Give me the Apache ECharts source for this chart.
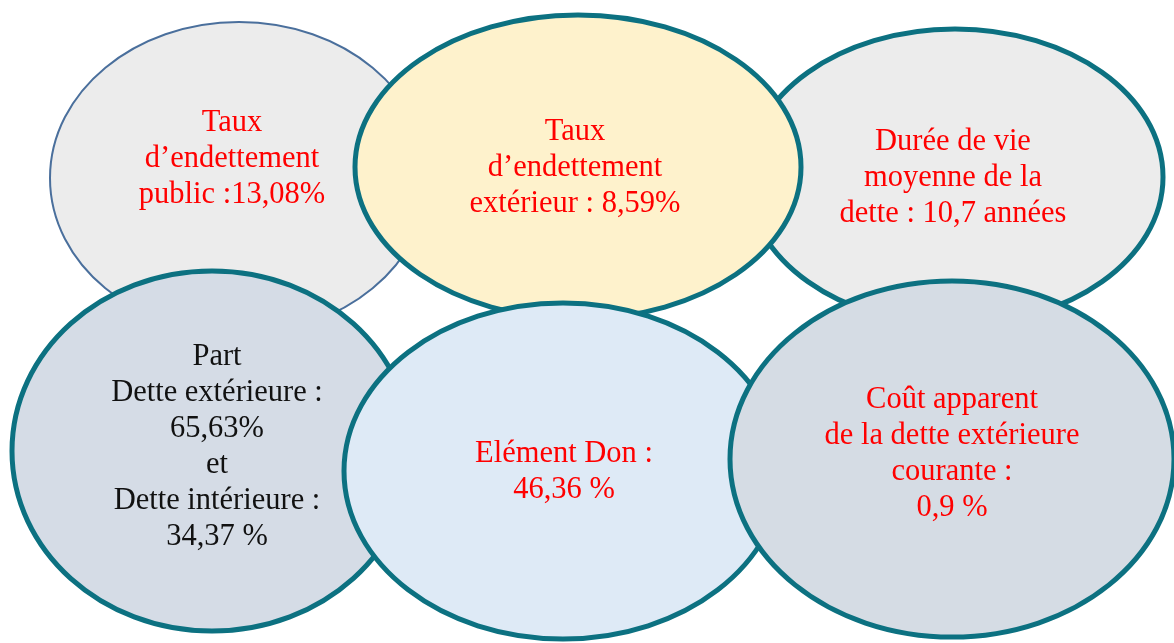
<!DOCTYPE html>
<html>
<head>
<meta charset="utf-8">
<script src="https://cdn.jsdelivr.net/npm/echarts@6/dist/echarts.min.js"></script>
<style>
html,body{margin:0;padding:0;background:#fff;}
#chart{width:1174px;height:643px;}
</style>
</head>
<body>
<div id="chart"></div>
<script>
// Labels of the six bubbles (drawing order: back to front)
const labels = [
  "Taux\nd’endettement\npublic :13,08%",
  "Durée de vie\nmoyenne de la\ndette : 10,7 années",
  "Taux\nd’endettement\nextérieur : 8,59%",
  "Part\nDette extérieure :\n65,63%\net\nDette intérieure :\n34,37 %",
  "Elément Don :\n46,36 %",
  "Coût apparent\nde la dette extérieure\ncourante :\n0,9 %"
];
// Bubble centres and radii, in axis units
const centerX = [239, 955, 578, 212, 563, 952];
const centerY = [178, 177, 167, 451, 471, 459];
const radiusX = [189, 208, 223, 200, 219, 222];
const radiusY = [156, 148, 152, 180, 168, 178];
// Text block centres
const textX = [232, 953, 575, 217, 564, 952];
const textY = [159, 178, 168, 447, 472, 454];

const fills = ['#ececec', '#ececec', '#fef2cc', '#d5dce6', '#deeaf6', '#d5dce4'];
const strokes = ['#4a6f9c', '#0c7181', '#0c7181', '#0c7181', '#0c7181', '#0c7181'];
const strokeW = [2, 5, 5, 5, 5, 5];
const textColors = ['#ff0000', '#ff0000', '#ff0000', '#111111', '#ff0000', '#ff0000'];

const data = labels.map((l, i) => [centerX[i], centerY[i], radiusX[i], radiusY[i], textX[i], textY[i]]);

const chart = echarts.init(document.getElementById('chart'));
chart.setOption({
  animation: false,
  grid: {left: 0, right: 0, top: 0, bottom: 0},
  xAxis: {type: 'value', min: 0, max: 1174, show: false},
  yAxis: {type: 'value', min: 0, max: 643, inverse: true, show: false},
  series: [{
    type: 'custom',
    clip: false,
    data: data,
    renderItem: function (params, api) {
      const i = params.dataIndex;
      const c = api.coord([api.value(0), api.value(1)]);
      const s = api.size([api.value(2), api.value(3)]);
      const t = api.coord([api.value(4), api.value(5)]);
      return {
        type: 'group',
        z2: i * 10,
        children: [
          {
            type: 'ellipse',
            z2: i * 10,
            shape: {cx: c[0], cy: c[1], rx: s[0], ry: s[1]},
            style: {fill: fills[i], stroke: strokes[i], lineWidth: strokeW[i]}
          },
          {
            type: 'text',
            z2: i * 10 + 1,
            style: {
              text: labels[i],
              x: t[0],
              y: t[1],
              fill: textColors[i],
              fontFamily: '"Liberation Serif", "DejaVu Serif", serif',
              fontSize: 30.5,
              lineHeight: 36,
              align: 'center',
              verticalAlign: 'middle'
            }
          }
        ]
      };
    }
  }]
});
</script>
</body>
</html>
